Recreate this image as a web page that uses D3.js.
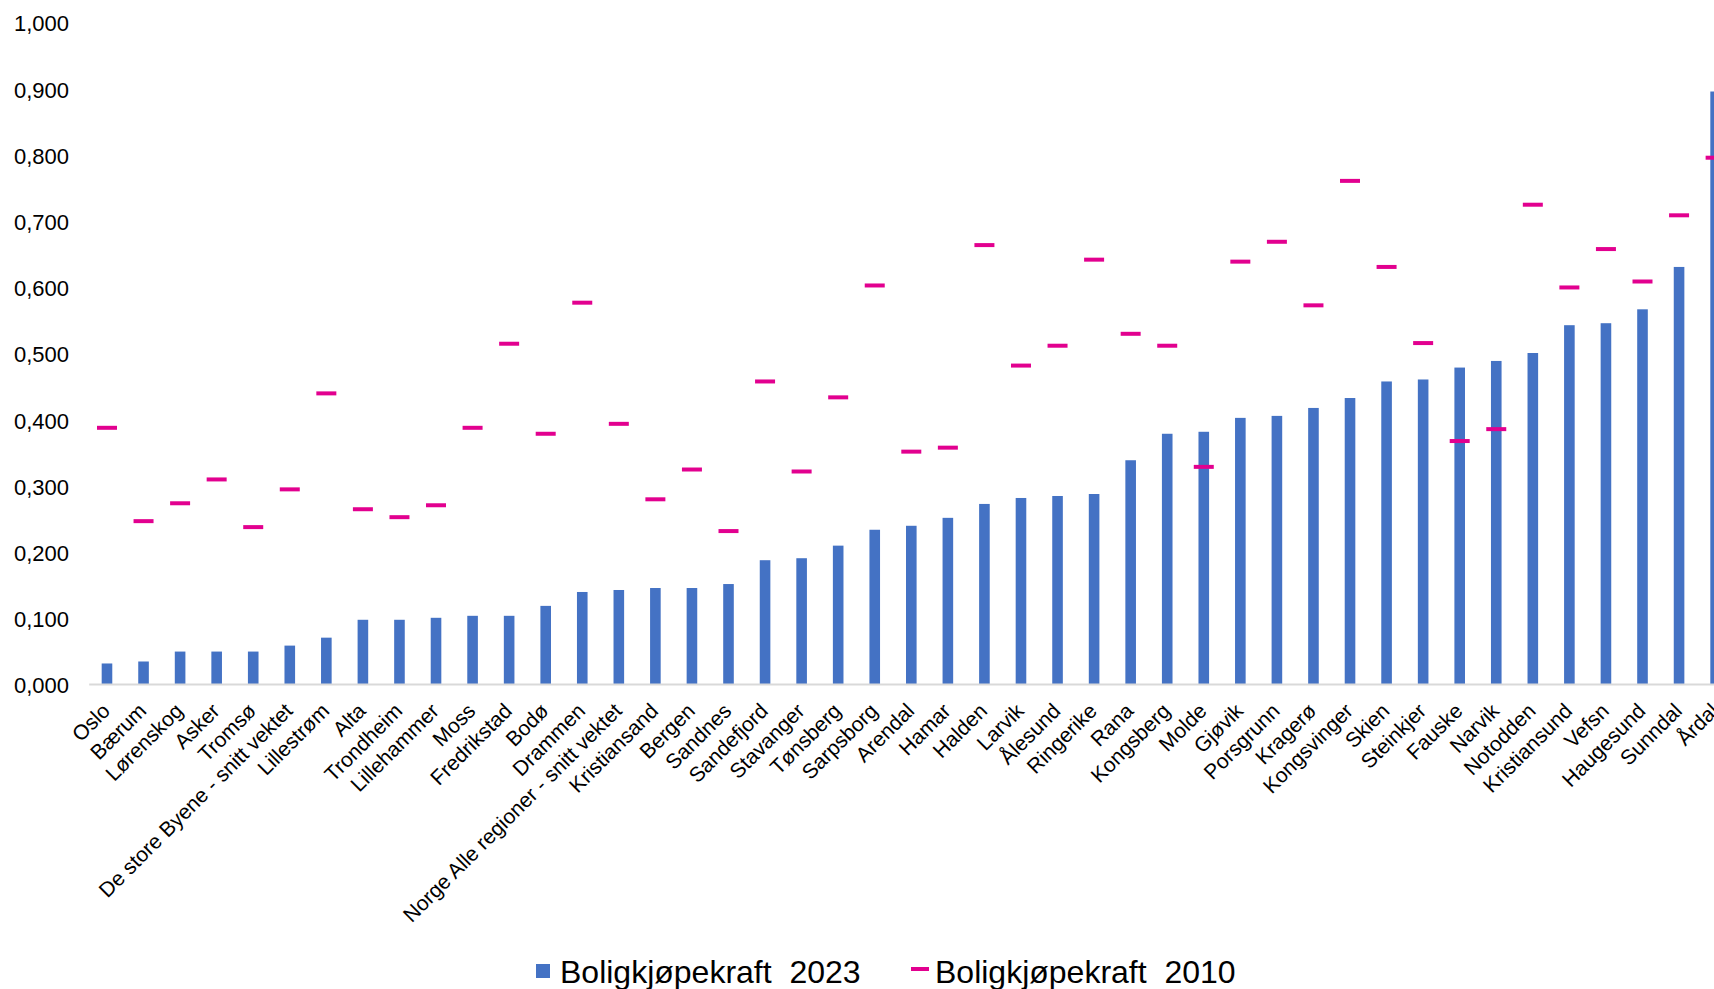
<!DOCTYPE html>
<html>
<head>
<meta charset="utf-8">
<script src="https://cdn.jsdelivr.net/npm/d3@7"></script>
<style>
  html, body { margin: 0; padding: 0; background: #ffffff; }
  svg { display: block; font-family: "Liberation Sans", Arial, sans-serif; }
</style>
</head>
<body>
<svg id="chart" width="1714" height="989"></svg>
<script>
// Regions, sorted by housing purchasing power in 2023
const categories = [
  "Oslo", "Bærum", "Lørenskog", "Asker", "Tromsø", "De store Byene - snitt vektet",
  "Lillestrøm", "Alta", "Trondheim", "Lillehammer", "Moss", "Fredrikstad", "Bodø",
  "Drammen", "Norge Alle regioner - snitt vektet", "Kristiansand", "Bergen", "Sandnes",
  "Sandefjord", "Stavanger", "Tønsberg", "Sarpsborg", "Arendal", "Hamar", "Halden",
  "Larvik", "Ålesund", "Ringerike", "Rana", "Kongsberg", "Molde", "Gjøvik", "Porsgrunn",
  "Kragerø", "Kongsvinger", "Skien", "Steinkjer", "Fauske", "Narvik", "Notodden",
  "Kristiansund", "Vefsn", "Haugesund", "Sunndal", "Årdal"
];

const values2023 = [
  0.031, 0.034, 0.049, 0.049, 0.049, 0.058,
  0.070, 0.097, 0.097, 0.100, 0.103, 0.103, 0.118,
  0.139, 0.142, 0.145, 0.145, 0.151,
  0.187, 0.190, 0.209, 0.233, 0.239, 0.251, 0.272,
  0.281, 0.284, 0.287, 0.338, 0.378, 0.381, 0.402, 0.405,
  0.417, 0.432, 0.457, 0.460, 0.478, 0.488, 0.500,
  0.542, 0.545, 0.566, 0.630, 0.895
];

const values2010 = [
  0.387, 0.246, 0.273, 0.309, 0.237, 0.294,
  0.439, 0.264, 0.252, 0.270, 0.387, 0.514, 0.378,
  0.576, 0.393, 0.279, 0.324, 0.231,
  0.457, 0.321, 0.433, 0.602, 0.351, 0.357, 0.663,
  0.481, 0.511, 0.641, 0.529, 0.511, 0.328, 0.638, 0.668,
  0.572, 0.760, 0.630, 0.515, 0.367, 0.385, 0.724,
  0.599, 0.657, 0.608, 0.708, 0.795
];

const yTicks = [0, 0.1, 0.2, 0.3, 0.4, 0.5, 0.6, 0.7, 0.8, 0.9, 1.0];

const seriesNames = ["Boligkjøpekraft  2023", "Boligkjøpekraft  2010"];
const seriesColors = ["#4472c4", "#e2008f"];

const svg = d3.select("#chart");

const plotLeft = 88.7;
const step = 36.56;
const x = d3.scaleBand()
  .domain(categories)
  .range([plotLeft, plotLeft + step * categories.length])
  .paddingInner(0.71)
  .paddingOuter(0.355);

const y = d3.scaleLinear().domain([0, 1]).range([684, 22]);

const fmt = d => d3.format(".3f")(d).replace(".", ",");

// y axis labels, no line and no gridlines
const yAxis = svg.append("g")
  .attr("transform", "translate(76,0)")
  .call(d3.axisLeft(y).tickValues(yTicks).tickFormat(fmt).tickSize(0).tickPadding(7));
yAxis.select(".domain").remove();
yAxis.selectAll("text")
  .attr("font-size", 22)
  .attr("font-family", "Liberation Sans, Arial, sans-serif")
  .attr("fill", "#000")
  .attr("dy", "0.40em");

// bars for 2023
svg.append("g").selectAll("rect")
  .data(categories)
  .join("rect")
  .attr("x", d => x(d))
  .attr("width", x.bandwidth())
  .attr("y", (d, i) => y(values2023[i]))
  .attr("height", (d, i) => y(0) - y(values2023[i]))
  .attr("fill", seriesColors[0]);

// category axis with the light baseline
const xAxis = svg.append("g")
  .attr("transform", `translate(0,${y(0)})`)
  .call(d3.axisBottom(x).tickSize(0).tickSizeOuter(0).tickPadding(0));
xAxis.select(".domain")
  .attr("stroke", "#d9d9d9")
  .attr("stroke-width", 2.2);
xAxis.selectAll(".tick text")
  .attr("font-size", 21)
  .attr("font-family", "Liberation Sans, Arial, sans-serif")
  .attr("fill", "#000")
  .attr("text-anchor", "end")
  .attr("dy", "0.35em")
  .attr("transform", "translate(-1,23) rotate(-45)");

// 2010 values as short horizontal dashes
const dashW = 20;
svg.append("g").selectAll("line")
  .data(categories)
  .join("line")
  .attr("x1", d => x(d) + x.bandwidth() / 2 - dashW / 2)
  .attr("x2", d => x(d) + x.bandwidth() / 2 + dashW / 2)
  .attr("y1", (d, i) => y(values2010[i]))
  .attr("y2", (d, i) => y(values2010[i]))
  .attr("stroke", seriesColors[1])
  .attr("stroke-width", 4);

// legend
const legend = svg.append("g").attr("transform", "translate(536,971)");
const legendOffsets = [0, 375];
const item = legend.selectAll("g")
  .data(seriesNames)
  .join("g")
  .attr("transform", (d, i) => `translate(${legendOffsets[i]},0)`);
item.filter((d, i) => i === 0).append("rect")
  .attr("x", 0).attr("y", -7).attr("width", 14).attr("height", 14)
  .attr("fill", seriesColors[0]);
item.filter((d, i) => i === 1).append("line")
  .attr("x1", 0).attr("x2", 18).attr("y1", -2).attr("y2", -2)
  .attr("stroke", seriesColors[1]).attr("stroke-width", 4);
item.append("text")
  .attr("x", 24)
  .attr("y", 0)
  .attr("dy", "0.36em")
  .attr("font-size", 32)
  .attr("fill", "#000")
  .style("white-space", "pre")
  .text(d => d);
</script>
</body>
</html>
